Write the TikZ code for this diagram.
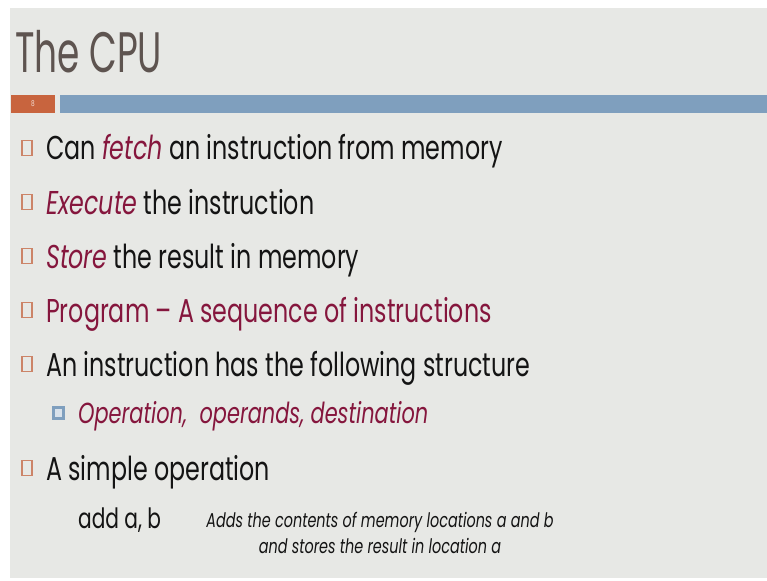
\documentclass[tikz,border=0pt]{standalone}
\usepackage{fontspec}
\setmainfont{Poppins}[FakeStretch=0.72]
\newfontfamily\titlefont{Poppins}[FakeStretch=0.63]
\definecolor{slidebg}{HTML}{E7E8E5}
\definecolor{titlegray}{HTML}{5E5450}
\definecolor{maroon}{HTML}{85163D}
\definecolor{bulletorange}{HTML}{CC8468}
\definecolor{barblue}{HTML}{7F9FBE}
\definecolor{barorange}{HTML}{C8643E}
\definecolor{inktext}{HTML}{141414}
\begin{document}
\begin{tikzpicture}[x=1pt,y=-1pt,
  body/.style={anchor=base west, inner sep=0pt, text=inktext, font=\fontsize{33}{40}\selectfont},
  subbody/.style={anchor=base west, inner sep=0pt, text=maroon, font=\fontsize{29}{34}\selectfont\itshape},
  note/.style={anchor=base, inner sep=0pt, text=inktext, font=\fontsize{20}{24}\selectfont\itshape},
  hollowbox/.style={draw=bulletorange, line width=1.3pt, fill=slidebg, minimum width=10pt, minimum height=15pt, inner sep=0pt},
  bluebox/.style={draw=barblue, line width=3pt, fill=white!70!barblue, minimum width=10pt, minimum height=11pt, inner sep=0pt}]
\useasboundingbox (0,0) rectangle (767,580);
\fill[white] (0,0) rectangle (767,580);
\fill[slidebg] (10,8) rectangle (767,578);
% title
\node[anchor=base west, inner sep=0pt, text=titlegray, font=\titlefont\fontsize{57}{62}\selectfont] (title) at (15,73) {The CPU};
% header bar with slide number
\fill[barorange] (11,95) rectangle (55,113);
\node[inner sep=0pt, text=white!80!barorange, font=\fontsize{8}{9}\selectfont] (num) at (33,104) {8};
\fill[barblue] (60,95) rectangle (767,113);
% bullet list
\node[hollowbox] (b1) at (27,148) {};
\node[body] (t1) at (46,160) {Can \textcolor{maroon}{\itshape fetch} an instruction from memory};
\node[hollowbox] (b2) at (27,202) {};
\node[body] (t2) at (46,214) {\textcolor{maroon}{\itshape Execute} the instruction};
\node[hollowbox] (b3) at (27,256) {};
\node[body] (t3) at (46,268) {\textcolor{maroon}{\itshape Store} the result in memory};
\node[hollowbox] (b4) at (27,310) {};
\node[body, text=maroon] (t4) at (46,322) {Program – A sequence of instructions};
\node[hollowbox] (b5) at (27,364) {};
\node[body] (t5) at (46,376) {An instruction has the following structure};
\node[bluebox] (b6) at (58,413) {};
\node[subbody] (t6) at (78,423) {Operation,\ \ operands, destination};
\node[hollowbox] (b7) at (27,468) {};
\node[body] (t7) at (46,480) {A simple operation};
% example instruction
\node[body, font=\fontsize{28}{32}\selectfont] (code) at (78,528) {add a, b};
\node[note] (n1) at (380,527) {Adds the contents of memory locations a and b};
\node[note] (n2) at (380,553) {and stores the result in location a};
\end{tikzpicture}
\end{document}
